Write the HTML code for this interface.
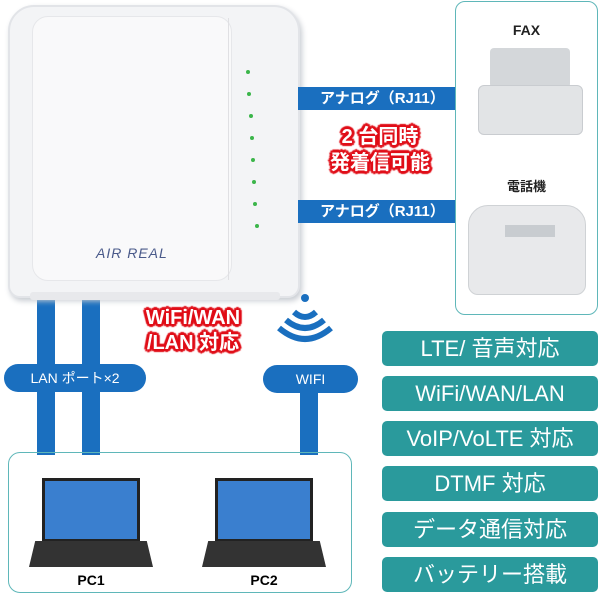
<!DOCTYPE html>
<html><head><meta charset="utf-8"><style>
body{margin:0;width:600px;height:595px;background:#fff;position:relative;overflow:hidden;font-family:"Liberation Sans","Noto Sans CJK JP",sans-serif}
div{position:absolute;box-sizing:border-box}
.bl{background:#1a6fbf}
.btn{left:382px;width:216px;height:35px;background:#2a9a9c;border-radius:5px;color:#fff;font-size:22px;text-align:center;line-height:35px}
.red{color:#fff;font-weight:bold;text-align:center;text-shadow:0 0 2px #e0101a,0 0 2px #e0101a,0 0 3px #e0101a,2px 2px 1px #e0101a,-2px -2px 1px #e0101a,2px -2px 1px #e0101a,-2px 2px 1px #e0101a,3px 0 1px #e0101a,-3px 0 1px #e0101a,0 3px 1px #e0101a,0 -3px 1px #e0101a}
.tag{color:#fff;font-size:15px;font-weight:bold;background:#1a6fbf;height:23px;line-height:23px;padding-left:22px}
.pill{background:#1a6fbf;color:#fff;font-size:14px;text-align:center;height:28px;line-height:28px;border-radius:14px}
.led{width:4px;height:4px;border-radius:2px;background:#3bb54a}
</style></head><body>
<div class="bl" style="left:37px;top:290px;width:18px;height:165px"></div>
<div class="bl" style="left:82px;top:290px;width:18px;height:165px"></div>
<div class="bl" style="left:300px;top:390px;width:18px;height:65px"></div>
<div class="pill" style="left:4px;top:364px;width:142px">LAN ポート×2</div>
<div class="pill" style="left:263px;top:365px;width:95px">WIFI</div>
<div style="left:8px;top:5px;width:292px;height:293px;background:#f3f4f6;border:2px solid #e2e4e8;border-radius:26px 26px 12px 12px;box-shadow:2px 3px 6px #c8ccd2"></div>
<div style="left:32px;top:16px;width:200px;height:265px;background:#f9f9fa;border:1px solid #e6e7ea;border-radius:16px"></div>
<div style="left:228px;top:18px;width:40px;height:262px;border-left:1px solid #e0e0e3"></div>
<div class="led" style="left:246px;top:70px"></div><div class="led" style="left:247px;top:92px"></div><div class="led" style="left:249px;top:114px"></div><div class="led" style="left:250px;top:136px"></div><div class="led" style="left:251px;top:158px"></div><div class="led" style="left:252px;top:180px"></div><div class="led" style="left:253px;top:202px"></div><div class="led" style="left:255px;top:224px"></div>
<div style="left:96px;top:245px;font-size:14px;color:#4a5a8a;font-style:italic;letter-spacing:1px">AIR REAL</div>
<div style="left:30px;top:292px;width:250px;height:8px;background:#e8e9ec;border-radius:3px"></div>
<div class="tag" style="left:298px;top:87px;width:157px">アナログ（RJ11）</div>
<div class="tag" style="left:298px;top:200px;width:157px">アナログ（RJ11）</div>
<div class="red" style="left:318px;top:124px;width:124px;font-size:20px;line-height:26px">2 台同時<br>発着信可能</div>
<div style="left:455px;top:1px;width:143px;height:314px;border:1.5px solid #5fb7b9;border-radius:10px;background:#fff"></div>
<div style="left:455px;top:22px;width:143px;text-align:center;font-size:14px;font-weight:bold;color:#222">FAX</div>
<div style="left:490px;top:48px;width:80px;height:40px;background:#d4d7da;border-radius:4px"></div>
<div style="left:478px;top:85px;width:105px;height:50px;background:#e2e4e6;border:1px solid #c9ccd0;border-radius:6px"></div>
<div style="left:455px;top:176px;width:143px;text-align:center;font-size:13px;font-weight:bold;color:#222">電話機</div>
<div style="left:468px;top:205px;width:118px;height:90px;background:#e8e9eb;border:1px solid #cfd2d5;border-radius:20px 20px 10px 10px"></div>
<div style="left:505px;top:225px;width:50px;height:12px;background:#c8ccd0"></div>
<svg style="position:absolute;left:270px;top:290px" width="70" height="60"><circle cx="35" cy="8" r="4" fill="#1a6fbf"/><g fill="none" stroke="#1a6fbf" stroke-width="6"><path d="M24 22 Q35 32 46 22"/><path d="M16 30 Q35 46 54 30"/><path d="M9 38 Q35 60 61 38"/></g></svg>
<div class="red" style="left:126px;top:306px;width:134px;font-size:20px;line-height:25px">WiFi/WAN<br>/LAN 対応</div>
<div style="left:8px;top:452px;width:344px;height:141px;border:1.5px solid #5fb7b9;border-radius:12px"></div>
<div style="left:42px;top:478px;width:98px;height:64px;background:#3a7fcf;border:3px solid #222"></div>
<div style="left:29px;top:541px;width:124px;height:26px;background:#333;clip-path:polygon(5% 0,95% 0,100% 100%,0 100%)"></div>
<div style="left:215px;top:478px;width:98px;height:64px;background:#3a7fcf;border:3px solid #222"></div>
<div style="left:202px;top:541px;width:124px;height:26px;background:#333;clip-path:polygon(5% 0,95% 0,100% 100%,0 100%)"></div>
<div style="left:30px;top:572px;width:122px;text-align:center;font-size:14px;font-weight:bold">PC1</div>
<div style="left:203px;top:572px;width:122px;text-align:center;font-size:14px;font-weight:bold">PC2</div>
<div class="btn" style="top:331px">LTE/ 音声対応</div>
<div class="btn" style="top:376px">WiFi/WAN/LAN</div>
<div class="btn" style="top:421px">VoIP/VoLTE 対応</div>
<div class="btn" style="top:466px">DTMF 対応</div>
<div class="btn" style="top:512px">データ通信対応</div>
<div class="btn" style="top:557px">バッテリー搭載</div>
</body></html>
